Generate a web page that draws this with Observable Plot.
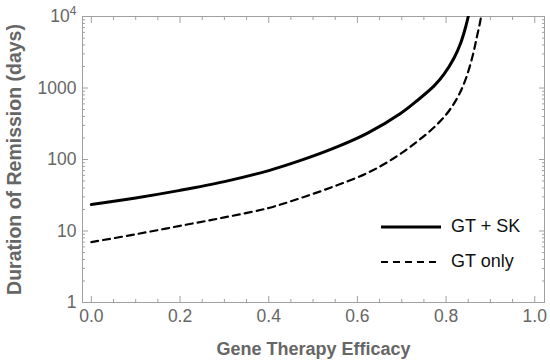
<!DOCTYPE html>
<html>
<head>
<meta charset="utf-8">
<script src="https://cdn.jsdelivr.net/npm/d3@7"></script>
<script src="https://cdn.jsdelivr.net/npm/@observablehq/plot@0.6"></script>
<style>
  html, body { margin: 0; padding: 0; background: #fff; }
  #wrap { position: relative; width: 550px; height: 361px; }
  #legend { position: absolute; left: 380px; top: 209px; font: 18px "Liberation Sans", Arial, sans-serif; color: #111; }
  #legend .row { display: flex; align-items: center; height: 35px; }
  #legend svg { margin-right: 9px; }
</style>
</head>
<body>
<div id="wrap"><div id="legend"></div></div>
<script>
// ---- data ----
const efficacySolid  = [0, 0.1, 0.2, 0.3, 0.4, 0.472, 0.547, 0.623, 0.698, 0.735, 0.773, 0.795, 0.818, 0.833, 0.844, 0.85];
const durationSolid  = [23.5, 29, 37, 49, 70, 97, 144, 234, 444, 669, 1070, 1550, 2630, 4270, 7080, 10000];
const efficacyDashed = [0, 0.1, 0.2, 0.3, 0.4, 0.472, 0.547, 0.623, 0.683, 0.735, 0.773, 0.803, 0.826, 0.844, 0.86, 0.869, 0.877, 0.879];
const durationDashed = [7.0, 9.0, 11.8, 15.5, 21, 28.9, 42, 65, 105, 179, 282, 447, 741, 1318, 2818, 5012, 8510, 10000];
const seriesNames = ["GT + SK", "GT only"];
const xMajorTicks = [0, 0.2, 0.4, 0.6, 0.8, 1.0];
const xTickLabels = ["0.0", "0.2", "0.4", "0.6", "0.8", "1.0"];
const xMinorTicks = [0.05, 0.1, 0.15, 0.25, 0.3, 0.35, 0.45, 0.5, 0.55, 0.65, 0.7, 0.75, 0.85, 0.9, 0.95];
const yMajorTicks = [1, 10, 100, 1000, 10000];
const yTickLabels = ["1", "10", "100", "1000", "10\u2074"];
const yMinorTicks = [1, 10, 100, 1000].flatMap(d => [2,3,4,5,6,7,8,9].map(m => m * d));
const xTitle = "Gene Therapy Efficacy";
const yTitle = "Duration of Remission (days)";

const solid = efficacySolid.map((e, i) => ({e, d: durationSolid[i]}));
const dashed = efficacyDashed.map((e, i) => ({e, d: durationDashed[i]}));
const yLabelOf = new Map(yMajorTicks.map((v, i) => [v, yTickLabels[i]]));
const xLabelOf = new Map(xMajorTicks.map((v, i) => [v, xTickLabels[i]]));

const frameColor = "#a0a0a0";
const textColor = "#666";
const blank = () => "";
const dashPattern = "7,5";

const chart = Plot.plot({
  width: 550,
  height: 361,
  marginLeft: 82,
  marginRight: 6,
  marginTop: 16,
  marginBottom: 59,
  style: {fontFamily: "'Liberation Sans', Arial, sans-serif", fontSize: "17.5px", background: "#fff", overflow: "visible"},
  x: {domain: [-0.02, 1.022]},
  y: {type: "log", domain: [1, 10000]},
  marks: [
    // inward ticks on all four sides
    Plot.axisX(xMajorTicks, {anchor: "bottom", tickSize: -6, tickFormat: blank, label: null, stroke: frameColor}),
    Plot.axisX(xMinorTicks, {anchor: "bottom", tickSize: -3, tickFormat: blank, label: null, stroke: frameColor}),
    Plot.axisX(xMajorTicks, {anchor: "top", tickSize: -6, tickFormat: blank, label: null, stroke: frameColor}),
    Plot.axisX(xMinorTicks, {anchor: "top", tickSize: -3, tickFormat: blank, label: null, stroke: frameColor}),
    Plot.axisY(yMajorTicks, {anchor: "left", tickSize: -6, tickFormat: blank, label: null, stroke: frameColor}),
    Plot.axisY(yMinorTicks, {anchor: "left", tickSize: -3, tickFormat: blank, label: null, stroke: frameColor}),
    Plot.axisY(yMajorTicks, {anchor: "right", tickSize: -6, tickFormat: blank, label: null, stroke: frameColor}),
    Plot.axisY(yMinorTicks, {anchor: "right", tickSize: -3, tickFormat: blank, label: null, stroke: frameColor}),
    // tick labels and titles
    Plot.axisX(xMajorTicks, {anchor: "bottom", tickSize: 0, tickPadding: 7, tickFormat: d => xLabelOf.get(d),
      fill: textColor, label: xTitle, labelAnchor: "center", labelOffset: 52, labelArrow: "none"}),
    Plot.axisY(yMajorTicks, {anchor: "left", tickSize: 0, tickPadding: 6, tickFormat: d => yLabelOf.get(d),
      fill: textColor, label: yTitle, labelAnchor: "center", labelOffset: 75, labelArrow: "none"}),
    Plot.frame({stroke: frameColor, strokeWidth: 1}),
    Plot.line(solid, {x: "e", y: "d", stroke: "#000", strokeWidth: 3, curve: "catmull-rom", clip: "frame"}),
    Plot.line(dashed, {x: "e", y: "d", stroke: "#000", strokeWidth: 2.2, strokeDasharray: dashPattern, curve: "catmull-rom", clip: "frame"})
  ]
});

// bold axis titles
chart.querySelectorAll("g[aria-label='x-axis label']").forEach(el => {
  el.setAttribute("font-weight", "bold");
  el.setAttribute("font-size", "18px");
});
chart.querySelectorAll("g[aria-label='y-axis label']").forEach(el => {
  el.setAttribute("font-weight", "bold");
  el.setAttribute("font-size", "19.5px");
});
// render the 10^4 label with a real superscript
chart.querySelectorAll("g[aria-label='y-axis tick label'] text").forEach(t => {
  if (t.textContent === "10\u2074") {
    t.textContent = "10";
    const sup = document.createElementNS("http://www.w3.org/2000/svg", "tspan");
    sup.textContent = "4";
    sup.setAttribute("font-size", "12px");
    sup.setAttribute("dy", "-7");
    t.appendChild(sup);
  }
});
const wrap = document.getElementById("wrap");
wrap.insertBefore(chart, wrap.firstChild);

// legend
const legend = document.getElementById("legend");
const dashes = ["", dashPattern];
const widths = [3, 2.2];
seriesNames.forEach((name, i) => {
  const row = document.createElement("div");
  row.className = "row";
  row.innerHTML = `<svg width="62" height="10"><line x1="1" x2="61" y1="5" y2="5" stroke="#000" stroke-width="${widths[i]}" ${dashes[i] ? `stroke-dasharray="${dashes[i]}"` : ""}/></svg><span>${name}</span>`;
  legend.appendChild(row);
});
</script>
</body>
</html>
